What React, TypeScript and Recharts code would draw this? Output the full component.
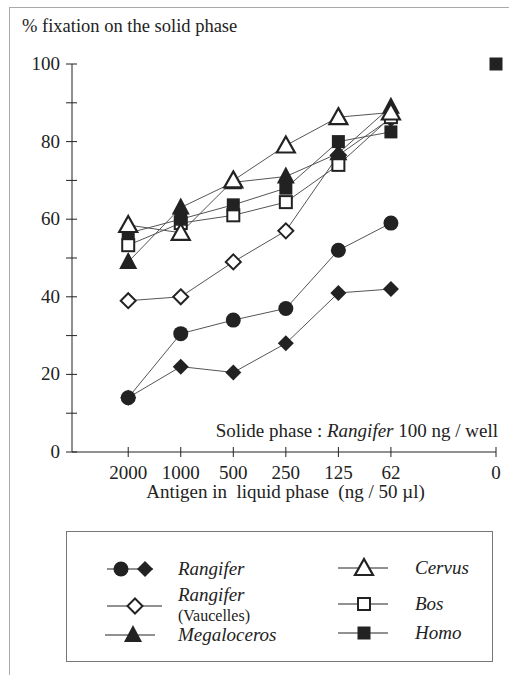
import React from "react";
import { ComposedChart, Line, XAxis, YAxis } from "recharts";

// antigen doses in liquid phase (ng / 50 µl), left to right
const doses = ["2000", "1000", "500", "250", "125", "62"];
const controlDose = "0";

// % fixation on the solid phase
const rangiferCircle = [14, 30.5, 34, 37, 52, 59];
const rangiferDiamond = [14, 22, 20.5, 28, 41, 42];
const rangiferVaucelles = [39, 40, 49, 57, 76.5, 86];
const megaloceros = [49, 63, 69.5, 71, 77, 89];
const cervus = [58.5, 56.5, 70, 79, 86.3, 87.5];
const bos = [53.3, 59, 61, 64.4, 74, 86.3];
const homo = [56.4, 60, 63.7, 68, 80, 82.5];
const homoControl = 100;

const yTicks = [0, 10, 20, 30, 40, 50, 60, 70, 80, 90, 100];

const ink = "#222";
const lineColor = "#555";
const font = "Liberation Serif";
const fs = 19;

type Kind =
  | "filledCircle"
  | "filledDiamond"
  | "openDiamond"
  | "filledTriangle"
  | "openTriangle"
  | "openSquare"
  | "filledSquare";

function Marker({ kind, cx, cy }: { kind: Kind; cx: number; cy: number }) {
  switch (kind) {
    case "filledCircle":
      return <circle cx={cx} cy={cy} r={7.5} fill={ink} />;
    case "filledDiamond":
      return <polygon points={`${cx},${cy - 8} ${cx + 8},${cy} ${cx},${cy + 8} ${cx - 8},${cy}`} fill={ink} />;
    case "openDiamond":
      return (
        <polygon
          points={`${cx},${cy - 7.5} ${cx + 7.5},${cy} ${cx},${cy + 7.5} ${cx - 7.5},${cy}`}
          fill="#fff"
          stroke={ink}
          strokeWidth={2}
        />
      );
    case "filledTriangle":
      return <polygon points={`${cx},${cy - 10} ${cx + 9},${cy + 7} ${cx - 9},${cy + 7}`} fill={ink} />;
    case "openTriangle":
      return (
        <polygon
          points={`${cx},${cy - 9} ${cx + 9},${cy + 7} ${cx - 9},${cy + 7}`}
          fill="#fff"
          stroke={ink}
          strokeWidth={2.2}
        />
      );
    case "openSquare":
      return <rect x={cx - 6} y={cy - 6} width={12} height={12} fill="#fff" stroke={ink} strokeWidth={2} />;
    case "filledSquare":
      return <rect x={cx - 6.5} y={cy - 6.5} width={13} height={13} fill={ink} />;
  }
}

const dotOf = (kind: Kind) => (p: any) => {
  if (p.cx == null || p.cy == null || p.value == null) return <g key={p.index} />;
  return <Marker key={p.index} kind={kind} cx={p.cx} cy={p.cy} />;
};

const rows: any[] = doses.map((d, i) => ({
  x: i + 1,
  dose: d,
  rangiferCircle: rangiferCircle[i],
  rangiferDiamond: rangiferDiamond[i],
  rangiferVaucelles: rangiferVaucelles[i],
  megaloceros: megaloceros[i],
  cervus: cervus[i],
  bos: bos[i],
  homo: homo[i],
}));
rows.push({ x: 8, dose: controlDose, homoControl });

const series: { key: string; kind: Kind }[] = [
  { key: "rangiferCircle", kind: "filledCircle" },
  { key: "rangiferDiamond", kind: "filledDiamond" },
  { key: "rangiferVaucelles", kind: "openDiamond" },
  { key: "bos", kind: "openSquare" },
  { key: "homo", kind: "filledSquare" },
  { key: "megaloceros", kind: "filledTriangle" },
  { key: "cervus", kind: "openTriangle" },
];

const tickLabel = (v: number) => (v === 8 ? controlDose : doses[v - 1] ?? "");

function YTick(props: any) {
  const { x, y, payload } = props;
  const v = payload.value;
  return (
    <g>
      <line x1={x - 6} x2={x + 5} y1={y} y2={y} stroke={ink} strokeWidth={1} />
      {v % 20 === 0 && (
        <text x={x - 12} y={y + 6} textAnchor="end" fontSize={fs} fontFamily={font} fill={ink}>
          {v}
        </text>
      )}
    </g>
  );
}

function XTick(props: any) {
  const { x, y, payload } = props;
  return (
    <g>
      <line x1={x} x2={x} y1={y - 5} y2={y + 5} stroke={ink} strokeWidth={1} />
      <text x={x} y={y + 27} textAnchor="middle" fontSize={fs} fontFamily={font} fill={ink}>
        {tickLabel(payload.value)}
      </text>
    </g>
  );
}

const legendLeft: { label: string; sub?: string; kinds: Kind[] }[] = [
  { label: "Rangifer", kinds: ["filledCircle", "filledDiamond"] },
  { label: "Rangifer", sub: "(Vaucelles)", kinds: ["openDiamond"] },
  { label: "Megaloceros", kinds: ["filledTriangle"] },
];
const legendRight: { label: string; kinds: Kind[] }[] = [
  { label: "Cervus", kinds: ["openTriangle"] },
  { label: "Bos", kinds: ["openSquare"] },
  { label: "Homo", kinds: ["filledSquare"] },
];

function LegendBox() {
  const text = { fontFamily: font, fontSize: fs, fill: ink } as const;
  return (
    <svg width={427} height={131} style={{ position: "absolute", left: 66, top: 531 }}>
      <rect x={0.5} y={0.5} width={426} height={130} fill="none" stroke="#777" strokeWidth={1} />
      {/* left column */}
      <line x1={41} x2={87} y1={38} y2={38} stroke={ink} />
      <Marker kind={legendLeft[0].kinds[0]} cx={55} cy={38} />
      <Marker kind={legendLeft[0].kinds[1]} cx={79} cy={38} />
      <text x={112} y={44} {...text} fontStyle="italic">{legendLeft[0].label}</text>

      <line x1={41} x2={96} y1={75} y2={75} stroke={ink} />
      <Marker kind={legendLeft[1].kinds[0]} cx={69} cy={75} />
      <text x={112} y={70} {...text} fontStyle="italic">{legendLeft[1].label}</text>
      <text x={112} y={90} {...text} fontSize={16}>{legendLeft[1].sub}</text>

      <line x1={39} x2={89} y1={104} y2={104} stroke={ink} />
      <Marker kind={legendLeft[2].kinds[0]} cx={67} cy={104} />
      <text x={112} y={110} {...text} fontStyle="italic">{legendLeft[2].label}</text>

      {/* right column */}
      {legendRight.map((it, i) => {
        const cy = [37, 73, 102][i];
        return (
          <g key={it.label}>
            <line x1={272} x2={322} y1={cy} y2={cy} stroke={ink} />
            <Marker kind={it.kinds[0]} cx={298} cy={cy} />
            <text x={349} y={cy + 6} {...text} fontStyle="italic">{it.label}</text>
          </g>
        );
      })}
    </svg>
  );
}

export default function App() {
  return (
    <div style={{ position: "absolute", left: 0, top: 0, width: 509, height: 675, background: "#fff", fontFamily: font }}>
      <div
        style={{
          position: "absolute",
          left: 9,
          top: 7,
          width: 500,
          height: 668,
          borderTop: "1px solid #aaa",
          borderLeft: "1px solid #aaa",
        }}
      />
      <ComposedChart
        width={509}
        height={675}
        data={rows}
        margin={{ top: 64, right: 13, bottom: 163, left: 12 }}
        style={{ position: "absolute", left: 0, top: 0 }}
      >
        <XAxis
          dataKey="x"
          type="number"
          domain={[-0.07, 8]}
          ticks={[1, 2, 3, 4, 5, 6, 8]}
          height={60}
          tickSize={0}
          tickMargin={0}
          tickLine={false}
          axisLine={{ stroke: ink, strokeWidth: 1 }}
          tick={<XTick />}
          interval={0}
        />
        <YAxis
          type="number"
          domain={[0, 100]}
          ticks={yTicks}
          width={60}
          tickSize={0}
          tickMargin={0}
          tickLine={false}
          axisLine={{ stroke: ink, strokeWidth: 1 }}
          tick={<YTick />}
          interval={0}
        />
        {series.map((s) => (
          <Line
            key={s.key}
            dataKey={s.key}
            type="linear"
            stroke={lineColor}
            strokeWidth={1}
            dot={dotOf(s.kind)}
            activeDot={false}
            isAnimationActive={false}
          />
        ))}
        <Line
          dataKey="homoControl"
          stroke="none"
          dot={dotOf("filledSquare")}
          activeDot={false}
          isAnimationActive={false}
        />
      </ComposedChart>
      <div style={{ position: "absolute", left: 22, top: 17, fontSize: 18.5, lineHeight: "19px", color: ink, whiteSpace: "nowrap" }}>
        % fixation on the solid phase
      </div>
      <div style={{ position: "absolute", right: 11, top: 421, fontSize: fs, lineHeight: "19px", color: ink, whiteSpace: "nowrap" }}>
        Solide phase : <i>Rangifer</i> 100 ng / well
      </div>
      <div
        style={{
          position: "absolute",
          left: 0,
          width: 571,
          textAlign: "center",
          top: 484,
          fontSize: fs,
          lineHeight: "16px",
          color: ink,
          whiteSpace: "pre",
        }}
      >
        {"Antigen in  liquid phase  (ng / 50 µl)"}
      </div>
      <LegendBox />
    </div>
  );
}
